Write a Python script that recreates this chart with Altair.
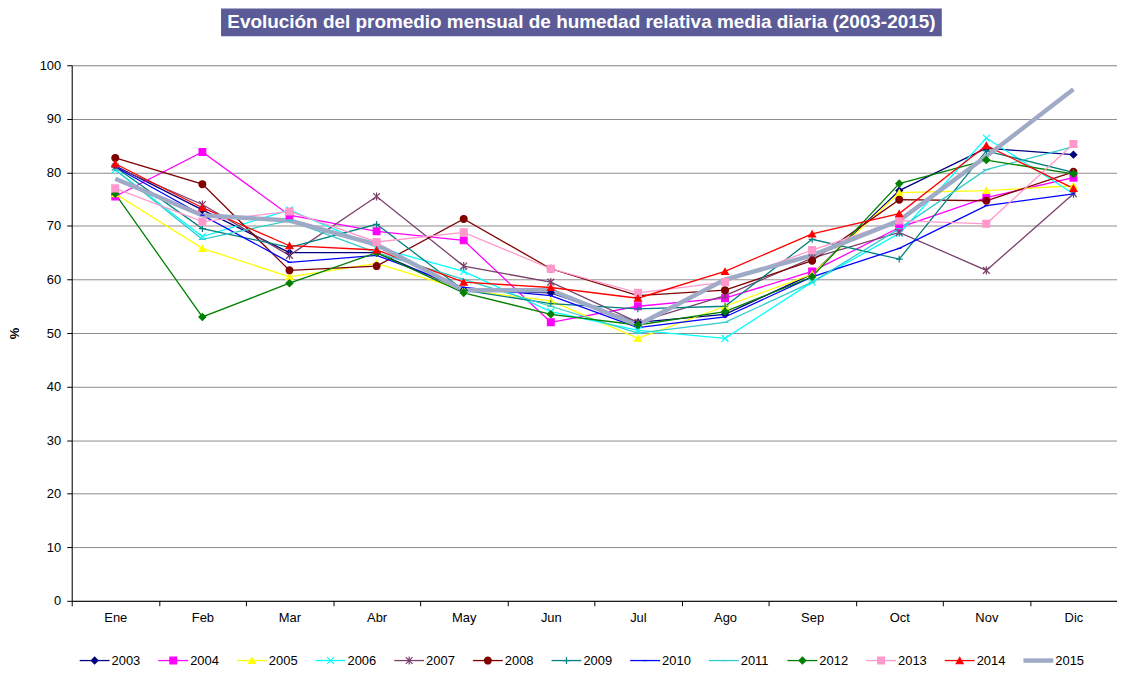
import altair as alt
import pandas as pd

months = ["Ene", "Feb", "Mar", "Abr", "May", "Jun", "Jul", "Ago", "Sep", "Oct", "Nov", "Dic"]
years = ["2003", "2004", "2005", "2006", "2007", "2008", "2009",
         "2010", "2011", "2012", "2013", "2014", "2015"]

h2003 = [81.2, 73.0, 65.0, 65.0, 58.0, 57.5, 52.0, 53.5, 61.0, 76.6, 84.5, 83.3]
h2004 = [75.5, 83.8, 72.0, 69.0, 67.3, 52.0, 55.0, 56.5, 61.5, 69.7, 75.3, 79.0]
h2005 = [76.0, 65.8, 60.5, 63.0, 58.0, 56.0, 49.0, 55.0, 61.0, 76.2, 76.6, 77.5]
h2006 = [80.5, 68.0, 73.0, 66.0, 61.5, 54.0, 50.5, 49.0, 59.5, 68.6, 86.4, 76.0]
h2007 = [81.0, 74.0, 64.5, 75.5, 62.5, 59.5, 52.0, 57.0, 64.0, 68.8, 61.7, 76.0]
h2008 = [82.7, 77.8, 61.7, 62.5, 71.3, 62.0, 57.0, 58.0, 63.5, 74.9, 74.7, 80.1]
h2009 = [81.0, 69.5, 66.0, 70.3, 58.0, 55.5, 54.5, 55.0, 67.5, 63.8, 84.0, 80.0]
h2010 = [81.0, 72.0, 63.2, 64.5, 58.5, 57.0, 51.0, 53.0, 60.5, 65.8, 73.8, 76.0]
h2011 = [80.5, 67.5, 71.0, 65.0, 60.0, 55.0, 50.0, 52.0, 59.5, 69.5, 80.5, 84.8]
h2012 = [76.0, 53.0, 59.3, 65.0, 57.5, 53.5, 51.5, 54.0, 60.5, 77.9, 82.3, 79.7]
h2013 = [77.0, 70.8, 72.7, 67.0, 68.8, 62.0, 57.5, 59.5, 65.5, 71.0, 70.4, 85.3]
h2014 = [81.6, 73.4, 66.3, 65.5, 59.5, 58.5, 56.5, 61.5, 68.5, 72.3, 85.0, 77.0]
h2015 = [78.8, 72.0, 71.0, 66.5, 58.0, 58.0, 51.5, 60.0, 64.5, 71.0, 83.0, 95.5]

series = [h2003, h2004, h2005, h2006, h2007, h2008, h2009,
          h2010, h2011, h2012, h2013, h2014, h2015]

colors = ["#000080", "#FF00FF", "#FFFF00", "#00FFFF", "#7B3F6B", "#800000", "#008080",
          "#0000FF", "#33CCCC", "#008000", "#FF99CC", "#FF0000", "#9EAAC6"]
shapes = ["diamond", "square", "triangle-up",
          "M-1,-1L1,1M-1,1L1,-1",
          "M-1,-1L1,1M-1,1L1,-1M0,-1.2L0,1.2",
          "circle",
          "M-1,0L1,0M0,-1L0,1",
          "M-0.6,0L0.6,0",
          "M-1,0L1,0",
          "diamond", "square", "triangle-up", "M0,0"]
sizes = [45, 49, 45, 36, 49, 64, 49, 49, 49, 45, 49, 49, 1]

title_text = "Evolución del promedio mensual de humedad relativa media diaria (2003-2015)"

rows = []
for y, vals in zip(years, series):
    for m, v in zip(months, vals):
        rows.append({"mes": m, "year": y, "value": v})
df = pd.DataFrame(rows)
leg = pd.DataFrame({"year": years})

FONT = "Liberation Sans"

color_scale = alt.Scale(domain=years, range=colors)
shape_scale = alt.Scale(domain=years, range=shapes)
size_scale = alt.Scale(domain=years, range=sizes)
thick = alt.condition(alt.datum.year == "2015", alt.value(4.5), alt.value(1.3))

x_enc = alt.X("mes:N", sort=months,
              scale=alt.Scale(type="band", paddingInner=0, paddingOuter=0),
              axis=alt.Axis(title=None, tickBand="extent", labelAngle=0, grid=False,
                            domainColor="black", tickColor="black", tickSize=5,
                            labelFontSize=13, labelFont=FONT, labelColor="black",
                            labelPadding=6))
y_enc = alt.Y("value:Q", scale=alt.Scale(domain=[0, 100], nice=False),
              axis=alt.Axis(title="%", values=list(range(0, 101, 10)), grid=True,
                            gridColor="#8c8c8c", gridWidth=1,
                            domainColor="black", tickColor="black", tickSize=5,
                            labelFontSize=13, labelFont=FONT, labelColor="black",
                            labelPadding=6, titleFont=FONT, titleFontSize=13,
                            titleColor="black", titleFontWeight="bold", titlePadding=18))

lines = alt.Chart(df).mark_line().encode(
    x=x_enc, y=y_enc,
    color=alt.Color("year:N", scale=color_scale, legend=None),
    strokeWidth=thick,
)

points = alt.Chart(df).transform_filter(alt.datum.year != "2015").mark_point(
    filled=True, opacity=1, strokeWidth=1.2
).encode(
    x=alt.X("mes:N", sort=months), y="value:Q",
    color=alt.Color("year:N", scale=color_scale, legend=None),
    stroke=alt.Stroke("year:N", scale=color_scale, legend=None),
    shape=alt.Shape("year:N", scale=shape_scale, legend=None),
    size=alt.Size("year:N", scale=size_scale, legend=None),
)

plot = alt.layer(lines, points)

leg_x = alt.X("year:N", sort=years,
              scale=alt.Scale(type="point", range=[23, 971], padding=0), axis=None)

leg_line = alt.Chart(leg).mark_point(shape="stroke", size=900, filled=False, opacity=1).encode(
    x=leg_x, y=alt.value(598),
    color=alt.Color("year:N", scale=color_scale, legend=None),
    strokeWidth=thick,
)
leg_pt = alt.Chart(leg).transform_filter(alt.datum.year != "2015").mark_point(
    filled=True, opacity=1, strokeWidth=1.2
).encode(
    x=leg_x, y=alt.value(598),
    color=alt.Color("year:N", scale=color_scale, legend=None),
    stroke=alt.Stroke("year:N", scale=color_scale, legend=None),
    shape=alt.Shape("year:N", scale=shape_scale, legend=None),
    size=alt.Size("year:N", scale=size_scale, legend=None),
)
leg_txt = alt.Chart(leg).mark_text(align="left", baseline="middle", dx=17,
                                   fontSize=13, font=FONT, color="black").encode(
    x=leg_x, y=alt.value(598), text="year:N",
)
legend = alt.layer(leg_line, leg_pt, leg_txt)

box_df = pd.DataFrame({"t": [title_text]})
title_box = alt.Chart(box_df).mark_rect(color="#5B5B98").encode(
    x=alt.value(150), x2=alt.value(874), y=alt.value(-57), y2=alt.value(-29),
)
title_txt = alt.Chart(box_df).mark_text(
    color="white", fontSize=19, font=FONT, fontWeight="bold",
    align="center", baseline="middle"
).encode(x=alt.value(512), y=alt.value(-43), text="t:N")

chart = alt.layer(title_box, title_txt, plot, legend).resolve_scale(x="independent").properties(
    width=1050, height=538,
    autosize="none",
    padding={"left": 64, "top": 56, "right": 0, "bottom": 70},
).configure_view(stroke=None).configure(background="white")

chart.save("out.html", embed_options={"renderer": "svg", "actions": False})
